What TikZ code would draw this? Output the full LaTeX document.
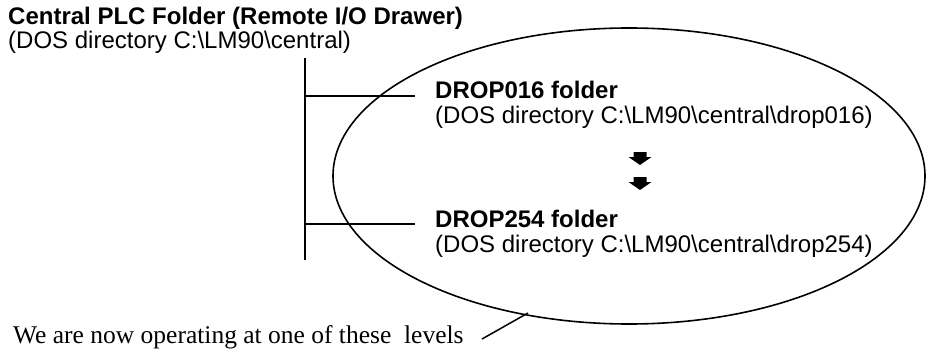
\documentclass[tikz,border=0pt]{standalone}
\usepackage{fontspec}
\setmainfont{Liberation Serif}
\newfontfamily\arialfont{Liberation Sans}
\usetikzlibrary{shapes.geometric}
\begin{document}
\begin{tikzpicture}[x=1pt,y=-1pt]
\tikzset{
  lbl/.style={anchor=base west,inner sep=0pt,font=\arialfont\fontsize{24}{28}\selectfont},
  lblb/.style={lbl,font=\arialfont\bfseries\fontsize{24}{28}\selectfont},
  serif/.style={anchor=base west,inner sep=0pt,font=\fontsize{25.5}{30}\selectfont},
  bus/.style={line width=2.2pt},
  link/.style={line width=1.8pt},
  ring/.style={draw,ellipse,line width=1.6pt,inner sep=0pt},
  blockarrow/.pic={\fill[black] (-6.5,-6.5) -- (6.5,-6.5) -- (6.5,-1.5) -- (11.5,-1.5)
     -- (0,6.5) -- (-11.5,-1.5) -- (-6.5,-1.5) -- cycle;},
  pointer/.style={line width=1.5pt}
}
\useasboundingbox (0,0) rectangle (926,350);

% title
\node[lblb] (t1) at (8,25) {Central PLC Folder (Remote I/O Drawer)};
\node[lbl] (t2) at (8,49) {(DOS directory C:\textbackslash LM90\textbackslash central)};

% ellipse
\node[ring,minimum width=592pt,minimum height=296pt] (ell) at (629,176) {};

% bus
\coordinate (bt) at (305,58);
\coordinate (bb) at (305,260);
\draw[bus] (bt) -- (bb);
\coordinate (h1a) at (305,96);
\coordinate (h1b) at (415,96);
\coordinate (h2a) at (305,224);
\coordinate (h2b) at (415,224);
\draw[link] (h1a) -- (h1b);
\draw[link] (h2a) -- (h2b);

% drop folders
\node[lblb] (d1) at (435,99) {DROP016 folder};
\node[lbl] (d1p) at (435,124) {(DOS directory C:\textbackslash LM90\textbackslash central\textbackslash drop016)};
\node[lblb] (d2) at (435,227) {DROP254 folder};
\node[lbl] (d2p) at (435,252) {(DOS directory C:\textbackslash LM90\textbackslash central\textbackslash drop254)};

% arrows
\coordinate (a1) at (640,158.5);
\coordinate (a2) at (640,183.5);
\pic at (a1) {blockarrow};
\pic at (a2) {blockarrow};

% bottom note
\node[serif] (note) at (13,343) {We are now operating at one of these\ \ levels};
\coordinate (p1) at (482,339);
\coordinate (p2) at (528,313);
\draw[pointer] (p1) -- (p2);
\end{tikzpicture}
\end{document}
